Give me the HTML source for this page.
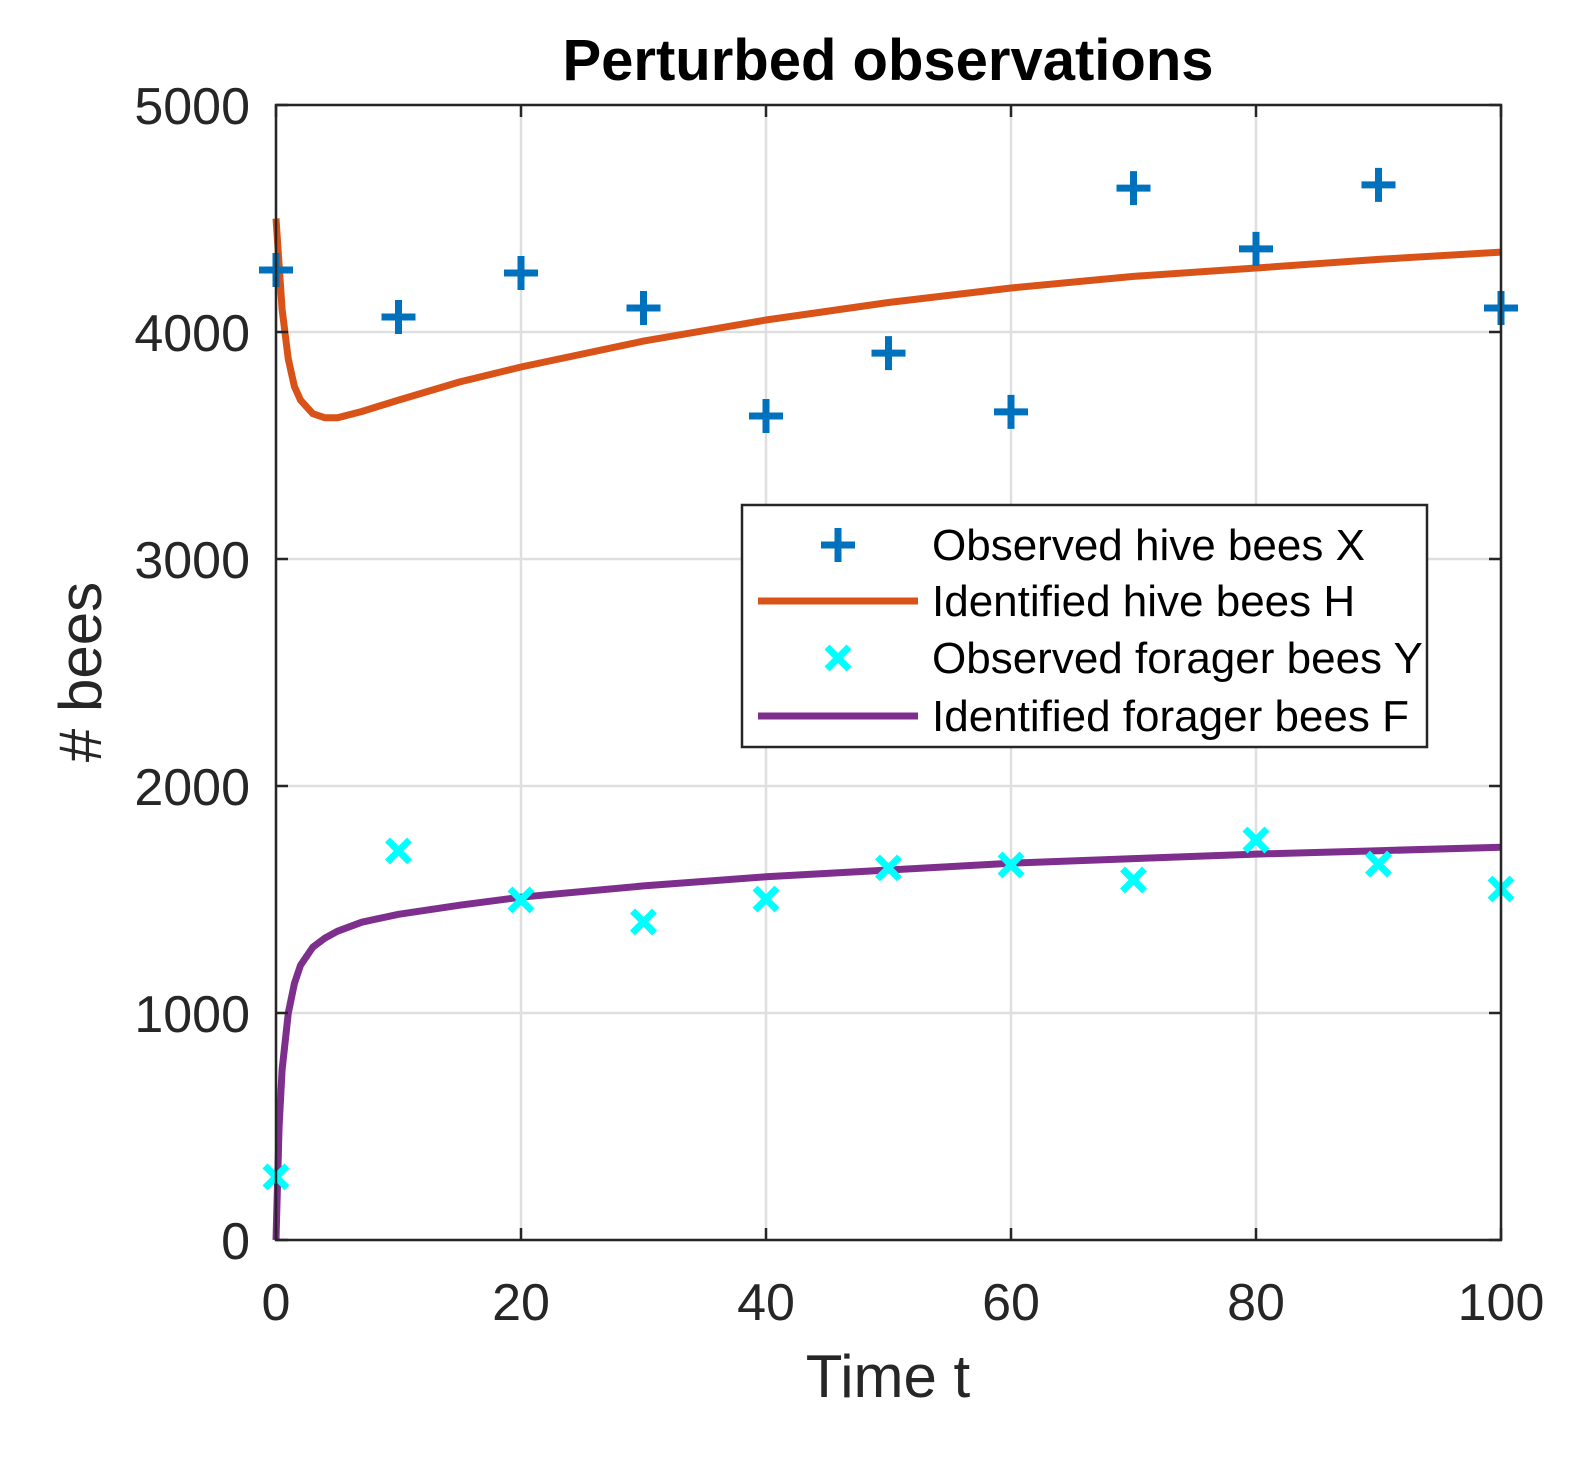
<!DOCTYPE html>
<html><head><meta charset="utf-8">
<style>
html,body{margin:0;padding:0;background:#fff;}
svg{display:block;font-family:"Liberation Sans",Arial,sans-serif;}
</style></head>
<body>
<svg id="chart" width="1589" height="1472" viewBox="0 0 1589 1472">
<rect x="0" y="0" width="1589" height="1472" fill="#fff"/>
<g id="grid"></g>
<g id="series"></g>
<rect x="276" y="105" width="1225" height="1135" fill="none" stroke="#262626" stroke-width="2.5"/>
<g id="ticks"></g>
<text x="888" y="80" text-anchor="middle" font-size="58" font-weight="bold" fill="#000">Perturbed observations</text>
<text x="888" y="1397" text-anchor="middle" font-size="60" fill="#262626">Time t</text>
<text transform="translate(101,672) rotate(-90)" text-anchor="middle" font-size="60" fill="#262626"># bees</text>
<g id="legend">
<rect x="742" y="505" width="685" height="242" fill="#fff" stroke="#262626" stroke-width="2.5"/>
</g>
</svg>
<script>
const xTicks=[0,20,40,60,80,100];
const yTicks=[0,1000,2000,3000,4000,5000];
const obsT=[0,10,20,30,40,50,60,70,80,90,100];
const hiveObs=[4273,4066,4260,4106,3630,3907,3648,4634,4366,4648,4106];
const foragerObs=[278,1714,1498,1401,1502,1639,1652,1586,1762,1656,1546];
const hT=[0,0.5,1,1.5,2,3,4,5,7,10,15,20,30,40,50,60,70,80,90,100];
const hVal=[4500,4100,3880,3760,3700,3640,3622,3622,3650,3700,3780,3846,3960,4053,4130,4194,4245,4282,4320,4352];
const fT=[0,0.25,0.5,1,1.5,2,3,4,5,7,10,15,20,30,40,50,60,70,80,90,100];
const fVal=[0,500,750,1000,1130,1210,1290,1330,1360,1400,1435,1475,1510,1560,1600,1630,1660,1680,1700,1715,1730];

const X0=276,X1=1501,Y0=1240,Y1=105;
const sx=t=>X0+(t-0)/(100)*(X1-X0);
const sy=v=>Y0-(v/5000)*(Y0-Y1);
const NS="http://www.w3.org/2000/svg";
function mk(tag,attrs,parent){const e=document.createElementNS(NS,tag);for(const k in attrs)e.setAttribute(k,attrs[k]);parent.appendChild(e);return e;}
const grid=document.getElementById('grid'),ticks=document.getElementById('ticks'),series=document.getElementById('series'),legend=document.getElementById('legend');

xTicks.forEach(t=>{
  const x=sx(t);
  const g=mk('line',{x1:x,x2:x,y1:Y1,y2:Y0,stroke:'#dfdfdf','stroke-width':2.5},grid);
  
  
  mk('line',{x1:x,x2:x,y1:Y0,y2:Y0-12,stroke:'#262626','stroke-width':2.5},ticks);
  mk('line',{x1:x,x2:x,y1:Y1,y2:Y1+12,stroke:'#262626','stroke-width':2.5},ticks);
  const l=mk('text',{x:x,y:1320,'text-anchor':'middle','font-size':52,fill:'#262626'},ticks);
  l.textContent=t;
  
  
});
yTicks.forEach(v=>{
  const y=sy(v);
  const g=mk('line',{x1:X0,x2:X1,y1:y,y2:y,stroke:'#dfdfdf','stroke-width':2.5},grid);
  
  
  mk('line',{x1:X0,x2:X0+12,y1:y,y2:y,stroke:'#262626','stroke-width':2.5},ticks);
  mk('line',{x1:X1,x2:X1-12,y1:y,y2:y,stroke:'#262626','stroke-width':2.5},ticks);
  const l=mk('text',{x:250,y:y+19,'text-anchor':'end','font-size':52,fill:'#262626'},ticks);
  l.textContent=v;
  
  
});

function path(ts,vs){return ts.map((t,i)=>(i?'L':'M')+sx(t).toFixed(1)+','+sy(vs[i]).toFixed(1)).join(' ');}
const hp=mk('path',{d:path(hT,hVal),fill:'none',stroke:'#D95319','stroke-width':7,'stroke-linejoin':'round'},series);


const fp=mk('path',{d:path(fT,fVal),fill:'none',stroke:'#7E2F8E','stroke-width':7,'stroke-linejoin':'round'},series);



function plus(x,y,p){return mk('path',{d:`M${x-17},${y}H${x+17}M${x},${y-17}V${y+17}`,stroke:'#0072BD','stroke-width':7,fill:'none'},p);}
function cross(x,y,p){return mk('path',{d:`M${x-11},${y-11}L${x+11},${y+11}M${x-11},${y+11}L${x+11},${y-11}`,stroke:'#00FFFF','stroke-width':7,fill:'none'},p);}
obsT.forEach((t,i)=>{
  const a=plus(sx(t),sy(hiveObs[i]),series);
  
  
  const b=cross(sx(t),sy(foragerObs[i]),series);
  
  
});

const items=[['Observed hive bees X','plus'],['Identified hive bees H','#D95319'],['Observed forager bees Y','cross'],['Identified forager bees F','#7E2F8E']];
const ly=[545,601,658,716];
items.forEach((it,i)=>{
  const y=ly[i];
  if(it[1]==='plus')plus(838,y,legend);
  else if(it[1]==='cross')cross(838,y,legend);
  else mk('line',{x1:758,x2:918,y1:y,y2:y,stroke:it[1],'stroke-width':7},legend);
  const t=mk('text',{x:932,y:y+15,'font-size':44,fill:'#000'},legend);
  t.textContent=it[0];
  
  
});
</script>
</body></html>
